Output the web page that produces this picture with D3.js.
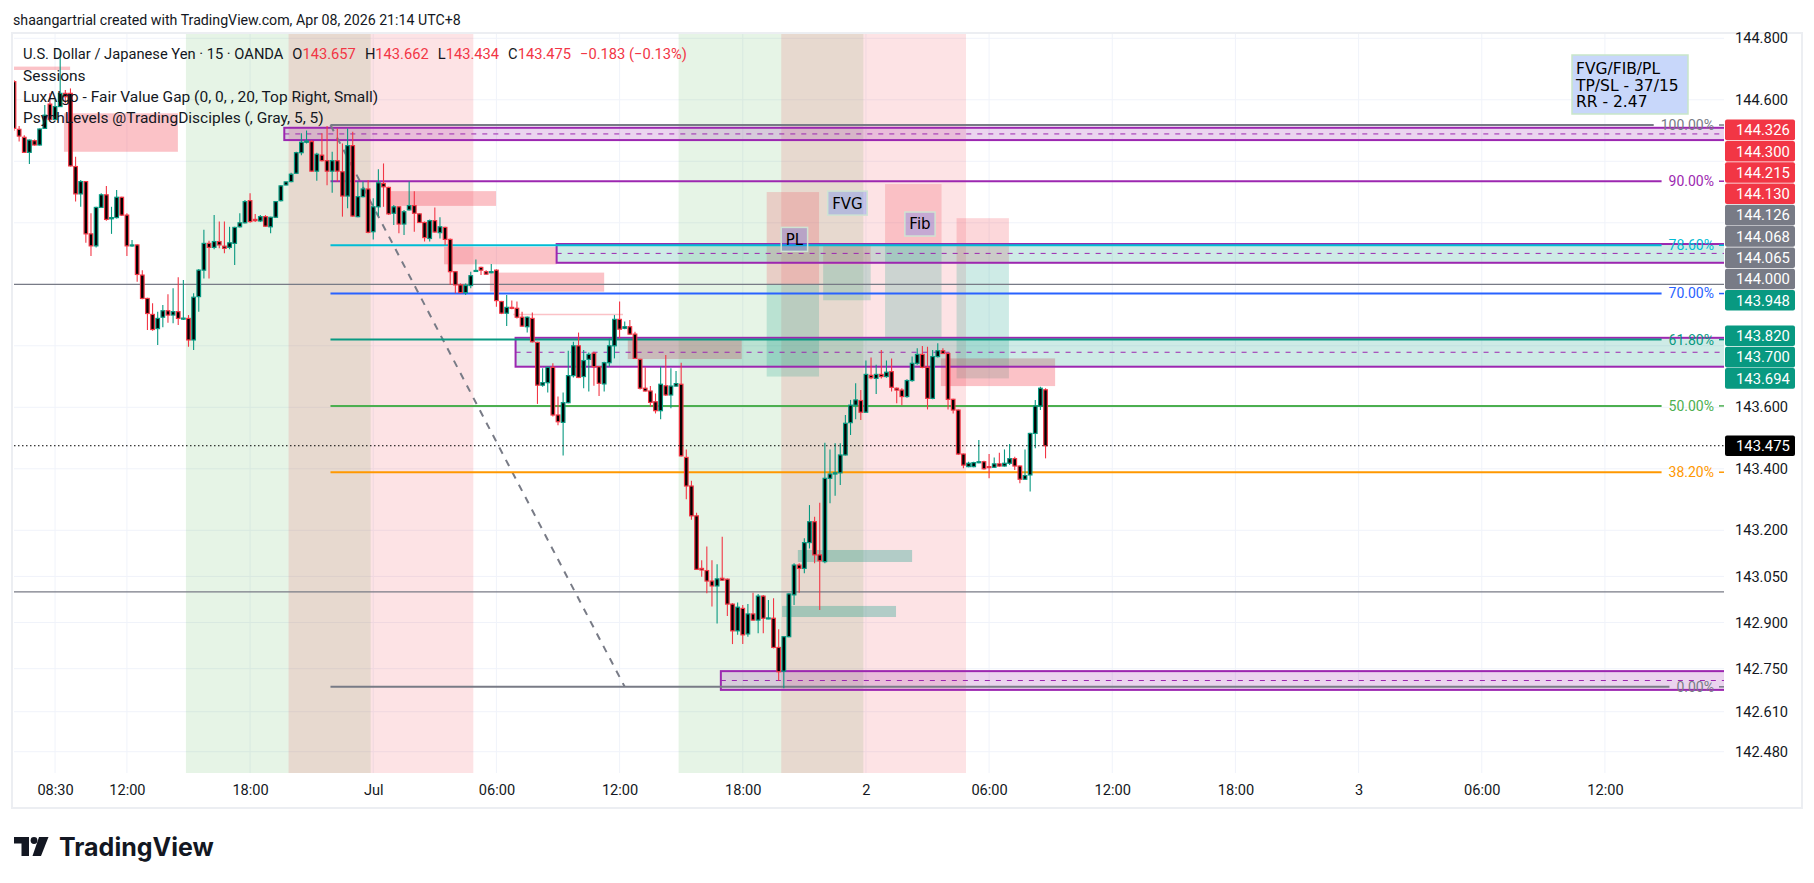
<!DOCTYPE html>
<meta charset="utf-8">
<script src="https://cdn.jsdelivr.net/npm/d3@7"></script>
<style>
body { margin: 0; background: #fff; }
svg { display: block; font-family: Roboto, "Noto Sans", sans-serif; }
</style>
<svg id="chart" width="1814" height="883"></svg>
<script>
// ---- data (USDJPY 15m, OANDA) ----
var firstBar = "2025-06-30 06:30";

var open = [
144.659,144.504,144.478,144.429,144.467,144.453,144.507,144.586,144.536,144.578,
144.621,144.621,144.383,144.294,144.334,144.164,144.125,144.250,144.291,144.213,
144.217,144.283,144.225,144.126,144.128,144.030,143.954,143.902,143.856,143.893,
143.914,143.900,143.911,143.888,143.889,143.819,143.960,144.046,144.133,144.120,
144.139,144.124,144.120,144.133,144.187,144.200,144.272,144.211,144.206,144.220,
144.187,144.218,144.272,144.323,144.334,144.361,144.428,144.462,144.464,144.368,
144.420,144.402,144.368,144.402,144.366,144.287,144.451,144.220,144.285,144.310,
144.171,144.252,144.328,144.315,144.231,144.252,144.196,144.242,144.256,144.229,
144.201,144.149,144.207,144.168,144.185,144.146,144.041,143.998,143.973,143.996,
144.043,144.055,144.041,144.038,144.046,143.944,143.906,143.925,143.922,143.893,
143.862,143.889,143.811,143.672,143.680,143.730,143.575,143.551,143.615,143.703,
143.800,143.700,143.756,143.776,143.732,143.676,143.745,143.800,143.886,143.857,
143.862,143.838,143.756,143.662,143.653,143.618,143.589,143.670,143.640,143.669,
143.675,143.437,143.344,143.247,143.076,143.069,143.035,143.019,143.044,143.041,
142.960,142.873,142.946,142.863,142.928,142.908,142.986,142.914,142.914,142.819,
142.742,142.854,142.990,143.087,143.076,143.160,143.228,143.120,143.098,143.369,
143.383,143.387,143.445,143.550,143.607,143.622,143.584,143.704,143.694,143.707,
143.700,143.716,143.662,143.656,143.635,143.687,143.743,143.772,143.730,143.629,
143.765,143.784,143.775,143.626,143.591,143.448,143.407,143.407,143.420,143.423,
143.407,143.405,143.416,143.409,143.418,143.433,143.409,143.366,143.380,143.515,
143.604,143.657];

var high = [
144.664,144.515,144.485,144.471,144.471,144.507,144.583,144.621,144.601,144.762,
144.632,144.637,144.415,144.339,144.334,144.231,144.252,144.296,144.320,144.252,
144.307,144.285,144.231,144.144,144.130,144.046,143.956,143.938,143.911,143.933,
143.968,143.987,144.023,144.014,143.900,143.971,144.050,144.177,144.142,144.225,
144.204,144.204,144.187,144.187,144.231,144.274,144.296,144.229,144.225,144.225,
144.220,144.271,144.323,144.334,144.363,144.431,144.491,144.500,144.469,144.428,
144.491,144.515,144.431,144.507,144.458,144.507,144.496,144.334,144.334,144.339,
144.280,144.374,144.393,144.317,144.258,144.254,144.242,144.334,144.303,144.231,
144.204,144.211,144.250,144.218,144.187,144.149,144.043,144.003,144.003,144.041,
144.081,144.057,144.046,144.066,144.049,143.946,143.965,143.947,143.944,143.911,
143.895,143.908,143.813,143.727,143.732,143.743,143.635,143.648,143.784,143.813,
143.843,143.786,143.778,143.781,143.734,143.748,143.824,143.900,143.944,143.879,
143.884,143.846,143.758,143.730,143.669,143.645,143.732,143.770,143.727,143.718,
143.745,143.463,143.361,143.257,143.103,143.147,143.103,143.090,143.179,143.043,
142.963,142.965,142.957,142.960,142.997,142.993,142.990,142.973,142.979,142.878,
142.856,142.995,143.093,143.093,143.174,143.282,143.244,143.290,143.485,143.463,
143.483,143.483,143.575,143.624,143.678,143.656,143.752,143.762,143.738,143.786,
143.752,143.759,143.664,143.662,143.691,143.765,143.792,143.799,143.797,143.786,
143.808,143.792,143.778,143.628,143.593,143.450,143.423,143.423,143.494,143.426,
143.448,143.437,143.452,143.463,143.481,143.439,143.411,143.463,143.517,143.624,
143.667,143.662];

var low = [
144.499,144.464,144.428,144.391,144.451,144.451,144.505,144.534,144.534,144.578,
144.588,144.383,144.269,144.252,144.135,144.092,144.120,144.248,144.207,144.164,
144.214,144.222,144.092,144.122,144.008,143.951,143.851,143.849,143.803,143.860,
143.875,143.873,143.868,143.884,143.797,143.786,143.911,144.019,144.019,144.114,
144.117,144.101,144.114,144.063,144.185,144.198,144.200,144.203,144.203,144.187,
144.166,144.216,144.269,144.321,144.332,144.359,144.420,144.458,144.366,144.337,
144.399,144.322,144.298,144.334,144.220,144.247,144.220,144.218,144.283,144.166,
144.146,144.222,144.252,144.225,144.193,144.166,144.160,144.240,144.171,144.199,
144.139,144.139,144.168,144.149,144.128,143.998,143.971,143.971,143.965,143.987,
144.041,144.030,144.032,144.036,143.927,143.903,143.864,143.919,143.889,143.862,
143.843,143.811,143.611,143.667,143.648,143.570,143.542,143.443,143.613,143.697,
143.695,143.662,143.651,143.670,143.637,143.651,143.732,143.759,143.824,143.854,
143.837,143.757,143.658,143.651,143.602,143.580,143.561,143.637,143.597,143.667,
143.440,143.301,143.234,143.071,143.049,142.995,142.952,142.897,143.036,142.921,
142.830,142.860,142.830,142.854,142.906,142.865,142.865,142.911,142.816,142.711,
142.686,142.852,142.957,142.997,143.060,143.141,143.093,142.941,143.093,143.288,
143.312,143.347,143.443,143.510,143.561,143.559,143.582,143.691,143.643,143.694,
143.696,143.651,143.613,143.607,143.631,143.683,143.738,143.727,143.593,143.626,
143.762,143.773,143.593,143.580,143.445,143.402,143.405,143.405,143.418,143.398,
143.369,143.403,143.407,143.407,143.412,143.396,143.353,143.364,143.326,143.467,
143.591,143.434];

var close = [
144.507,144.482,144.429,144.469,144.453,144.505,144.550,144.536,144.578,144.621,
144.610,144.385,144.294,144.334,144.164,144.125,144.250,144.291,144.211,144.217,
144.283,144.225,144.125,144.128,144.032,143.954,143.905,143.853,143.889,143.914,
143.900,143.911,143.889,143.890,143.819,143.958,144.046,144.133,144.120,144.139,
144.128,144.117,144.135,144.185,144.200,144.269,144.204,144.207,144.220,144.189,
144.218,144.269,144.320,144.333,144.358,144.428,144.462,144.466,144.368,144.423,
144.402,144.368,144.402,144.368,144.287,144.451,144.222,144.285,144.310,144.169,
144.252,144.330,144.317,144.229,144.252,144.196,144.236,144.256,144.231,144.201,
144.152,144.207,144.170,144.187,144.146,144.041,143.998,143.973,143.996,144.028,
144.045,144.046,144.033,144.041,143.947,143.906,143.925,143.922,143.893,143.864,
143.893,143.813,143.672,143.680,143.730,143.575,143.553,143.615,143.703,143.800,
143.697,143.752,143.772,143.732,143.678,143.745,143.800,143.886,143.854,143.862,
143.838,143.759,143.662,143.653,143.616,143.589,143.675,143.640,143.669,143.677,
143.442,143.344,143.247,143.073,143.071,143.035,143.019,143.042,143.038,142.960,
142.873,142.950,142.860,142.928,142.908,142.986,142.914,142.915,142.819,142.740,
142.854,142.993,143.087,143.076,143.160,143.228,143.120,143.101,143.369,143.383,
143.387,143.445,143.548,143.607,143.624,143.584,143.707,143.696,143.707,143.700,
143.714,143.665,143.656,143.635,143.687,143.743,143.772,143.730,143.629,143.765,
143.784,143.775,143.626,143.591,143.448,143.412,143.418,143.420,143.423,143.400,
143.406,143.416,143.409,143.418,143.433,143.409,143.366,143.378,143.515,143.604,
143.662,143.475];

// sessions
var sessKind  = ["London", "NewYork", "London", "NewYork"];
var sessStart = ["2025-06-30 15:00", "2025-06-30 20:00", "2025-07-01 15:00", "2025-07-01 20:00"];
var sessEnd   = ["2025-07-01 00:00", "2025-07-01 05:00", "2025-07-02 00:00", "2025-07-02 05:00"];

// time axis
var timeTicks = ["2025-06-30 08:30","2025-06-30 12:00","2025-06-30 18:00","2025-07-01 00:00","2025-07-01 06:00",
  "2025-07-01 12:00","2025-07-01 18:00","2025-07-02 00:00","2025-07-02 06:00","2025-07-02 12:00",
  "2025-07-02 18:00","2025-07-03 00:00","2025-07-03 06:00","2025-07-03 12:00"];
var timeLabels = ["08:30","12:00","18:00","Jul","06:00","12:00","18:00","2","06:00","12:00","18:00","3","06:00","12:00"];

// price axis
var priceTicks = [144.8,144.6,144.4,144.2,144.0,143.8,143.6,143.4,143.2,143.05,142.9,142.75,142.61,142.48];

// LuxAlgo fair value gaps
var fvgKind   = ["bear","bear","bear","bear","bear","bear","bull","bull","bear"];
var fvgStart  = ["2025-06-30 06:25","2025-06-30 08:56","2025-07-01 00:40","2025-07-01 03:27","2025-07-01 05:41",
                 "2025-07-01 12:24","2025-07-01 20:41","2025-07-01 19:55","2025-07-02 03:39"];
var fvgEnd    = ["2025-06-30 09:14","2025-06-30 14:29","2025-07-01 05:59","2025-07-01 08:56","2025-07-01 11:15",
                 "2025-07-01 17:57","2025-07-02 02:15","2025-07-02 01:28","2025-07-02 09:13"];
var fvgTop    = [144.708,144.556,144.303,144.122,144.038,143.821,143.136,142.954,143.759];
var fvgBottom = [144.697,144.431,144.255,144.065,143.976,143.757,143.097,142.918,143.669];
var fvgLineStart = "2025-07-01 06:49", fvgLineEnd = "2025-07-01 12:10", fvgLinePrice = 143.902;

// psych levels
var psychLevels = [144.000, 143.000];

// extended zones
var zoneKind   = ["bear","bull","bull","bear"];
var zoneStart  = ["2025-06-30 19:40","2025-07-01 08:56","2025-07-01 06:56","2025-07-01 16:56"];
var zoneTop    = [144.509,144.131,143.826,142.742];
var zoneBottom = [144.469,144.070,143.732,142.681];

// fib retracement
var fibStart = "2025-06-30 21:55", fibEnd = "2025-07-01 12:15";
var fibHigh = 144.518, fibLow = 142.691;
var fibLevels = [1, 0.9, 0.786, 0.7, 0.618, 0.5, 0.382, 0];

// short position tools
var posName   = ["PL","FVG","Fib",""];
var posStart  = ["2025-07-01 19:10","2025-07-01 21:55","2025-07-02 00:56","2025-07-02 04:25"];
var posEnd    = ["2025-07-01 21:43","2025-07-02 00:14","2025-07-02 03:41","2025-07-02 06:58"];
var posStop   = [144.300,144.130,144.326,144.215];
var posEntry  = [144.000,144.065,144.126,144.068];
var posTarget = [143.700,143.948,143.820,143.694];
var tagTime   = ["2025-07-01 20:31","2025-07-01 23:06","2025-07-02 02:38"];
var tagPrice  = [144.146,144.264,144.196];

var infoLines = ["FVG/FIB/PL", "TP/SL - 37/15", "RR - 2.47"];

// ---- setup ----
var W = 1814, H = 883;
var pane = {l: 14, r: 1724, t: 34, b: 773};
var up = "#089981", down = "#f23645", ink = "#131722";
var parse = d3.timeParse("%Y-%m-%d %H:%M");

var x = d3.scaleTime()
    .domain([parse("2025-06-30 06:30"), parse("2025-07-03 17:48")])
    .range([14, 1724]);
var y = d3.scaleLinear().domain([142.48, 144.8]).range([751.7, 38.3]);
var X = function(s) { return x(parse(s)); };
var t0 = parse(firstBar);
var barW = x(d3.timeMinute.offset(t0, 15)) - x(t0);

var svg = d3.select("#chart");
svg.append("rect").attr("width", W).attr("height", H).attr("fill", "#fff");

svg.append("text").attr("x", 13).attr("y", 25).attr("font-size", 14.2).attr("fill", ink)
    .text("shaangartrial created with TradingView.com, Apr 08, 2026 21:14 UTC+8");

svg.append("rect").attr("x", 12).attr("y", 33).attr("width", 1790).attr("height", 775)
    .attr("fill", "none").attr("stroke", "#eceef2").attr("stroke-width", 2);

svg.append("clipPath").attr("id", "pane").append("rect")
    .attr("x", pane.l).attr("y", pane.t).attr("width", pane.r - pane.l).attr("height", pane.b - pane.t);
var g = svg.append("g").attr("clip-path", "url(#pane)");

// grid
g.selectAll("line.hg").data(priceTicks).join("line")
    .attr("x1", pane.l).attr("x2", pane.r).attr("y1", d => y(d)).attr("y2", d => y(d))
    .attr("stroke", "#f0f3fa").attr("stroke-width", 1);
g.selectAll("line.vg").data(timeTicks).join("line")
    .attr("x1", d => X(d)).attr("x2", d => X(d)).attr("y1", pane.t).attr("y2", pane.b)
    .attr("stroke", "#f0f3fa").attr("stroke-width", 1);

// sessions
var sessFill = {London: "rgba(76,175,80,0.14)", NewYork: "rgba(242,54,69,0.14)"};
g.selectAll("rect.sess").data(sessKind).join("rect")
    .attr("x", (d, i) => X(sessStart[i]) - barW / 2)
    .attr("width", (d, i) => X(sessEnd[i]) - X(sessStart[i]))
    .attr("y", pane.t).attr("height", pane.b - pane.t)
    .attr("fill", d => sessFill[d]);

// position tools
var pos = g.append("g");
posStart.forEach(function(s, i) {
  var x1 = X(s), x2 = X(posEnd[i]);
  pos.append("rect").attr("x", x1).attr("width", x2 - x1)
      .attr("y", y(posStop[i])).attr("height", y(posEntry[i]) - y(posStop[i]))
      .attr("fill", "rgba(242,54,69,0.2)");
  pos.append("rect").attr("x", x1).attr("width", x2 - x1)
      .attr("y", y(posEntry[i])).attr("height", y(posTarget[i]) - y(posEntry[i]))
      .attr("fill", "rgba(8,153,129,0.2)");
});

// fair value gaps
g.selectAll("rect.fvg").data(fvgKind).join("rect")
    .attr("x", (d, i) => X(fvgStart[i]))
    .attr("width", (d, i) => X(fvgEnd[i]) - X(fvgStart[i]))
    .attr("y", (d, i) => y(fvgTop[i]))
    .attr("height", (d, i) => y(fvgBottom[i]) - y(fvgTop[i]))
    .attr("fill", d => d == "bear" ? "rgba(242,54,69,0.3)" : "rgba(8,153,129,0.3)");
g.append("line").attr("x1", X(fvgLineStart)).attr("x2", X(fvgLineEnd))
    .attr("y1", y(fvgLinePrice)).attr("y2", y(fvgLinePrice))
    .attr("stroke", "rgba(242,54,69,0.3)").attr("stroke-width", 1.5);

// zones (extend right)
zoneKind.forEach(function(k, i) {
  var x1 = X(zoneStart[i]), yt = y(zoneTop[i]), yb = y(zoneBottom[i]);
  g.append("rect").attr("x", x1).attr("width", pane.r + 6 - x1).attr("y", yt).attr("height", yb - yt)
      .attr("fill", k == "bear" ? "rgba(156,39,176,0.2)" : "rgba(8,153,129,0.2)")
      .attr("stroke", "#9c27b0").attr("stroke-width", 2);
  g.append("line").attr("x1", x1).attr("x2", pane.r).attr("y1", (yt + yb) / 2).attr("y2", (yt + yb) / 2)
      .attr("stroke", "#9c27b0").attr("stroke-width", 1).attr("stroke-dasharray", "5,6");
});

// psych levels
g.selectAll("line.psy").data(psychLevels).join("line")
    .attr("x1", pane.l).attr("x2", pane.r).attr("y1", d => y(d)).attr("y2", d => y(d))
    .attr("stroke", "#787b86").attr("stroke-width", 1.2);

// fib
var fibColor = {1: "#787b86", 0.9: "#9c27b0", 0.786: "#00bcd4", 0.7: "#2962ff", 0.618: "#089981",
                0.5: "#4caf50", 0.382: "#ff9800", 0: "#787b86"};
var fibG = svg.append("g");
fibLevels.forEach(function(lv) {
  var p = fibLow + lv * (fibHigh - fibLow), yy = y(p), col = fibColor[lv];
  var t = fibG.append("text").attr("x", 1714).attr("y", yy).attr("dy", "0.35em")
      .attr("text-anchor", "end").attr("font-size", 14).attr("fill", col)
      .text(d3.format(".2f")(lv * 100) + "%");
  var tx = 1714 - t.node().getComputedTextLength();
  fibG.insert("line", "text").attr("x1", X(fibStart)).attr("x2", tx - 7).attr("y1", yy).attr("y2", yy)
      .attr("stroke", col).attr("stroke-width", 2);
  fibG.append("line").attr("x1", 1719).attr("x2", 1724).attr("y1", yy).attr("y2", yy)
      .attr("stroke", col).attr("stroke-width", 1.5);
});
g.append("line").attr("x1", X(fibStart)).attr("y1", y(fibHigh)).attr("x2", X(fibEnd)).attr("y2", y(fibLow))
    .attr("stroke", "#787b86").attr("stroke-width", 2).attr("stroke-dasharray", "7,7");

// candles
var bars = close.map(function(c, i) {
  return {t: d3.timeMinute.offset(t0, 15 * i), o: open[i], h: high[i], l: low[i], c: c};
});
var cg = svg.append("g").attr("clip-path", "url(#pane)");
var candle = cg.selectAll("g").data(bars).join("g");
candle.append("line")
    .attr("x1", d => x(d.t)).attr("x2", d => x(d.t))
    .attr("y1", d => y(d.h)).attr("y2", d => y(d.l))
    .attr("stroke", d => d.c >= d.o ? up : down).attr("stroke-width", 1.1);
candle.append("rect")
    .attr("x", d => x(d.t) - 1.8).attr("width", 3.6)
    .attr("y", d => y(Math.max(d.o, d.c)))
    .attr("height", d => Math.max(1, Math.abs(y(d.o) - y(d.c))))
    .attr("fill", "#000").attr("stroke", d => d.c >= d.o ? up : down).attr("stroke-width", 1.2);

// last price line
var last = close[close.length - 1];
cg.append("line").attr("x1", pane.l).attr("x2", pane.r).attr("y1", y(last)).attr("y2", y(last))
    .attr("stroke", "#000").attr("stroke-width", 1).attr("stroke-dasharray", "1.5,2.5");

// tool tags
tagTime.forEach(function(t, i) {
  var cx = X(t), cy = y(tagPrice[i]);
  var tg = svg.append("g");
  var tt = tg.append("text").attr("x", cx).attr("y", cy).attr("dy", "0.36em").attr("text-anchor", "middle")
      .attr("font-family", "'DejaVu Sans', sans-serif").attr("font-size", 15).attr("fill", "#000").text(posName[i]);
  var w = tt.node().getComputedTextLength() + 9;
  tg.insert("rect", "text").attr("x", cx - w / 2).attr("y", cy - 12).attr("width", w).attr("height", 24)
      .attr("fill", "rgba(41,98,255,0.25)").attr("stroke", "#cfe3d3").attr("stroke-width", 1.5);
});

// info table
svg.append("rect").attr("x", 1572).attr("y", 55).attr("width", 116).attr("height", 59)
    .attr("fill", "#c8d7fa").attr("stroke", "#c8e6c9").attr("stroke-width", 1.5);
svg.selectAll("text.info").data(infoLines).join("text")
    .attr("x", 1576).attr("y", (d, i) => 68.5 + i * 16.7).attr("dy", "0.36em")
    .attr("font-family", "'DejaVu Sans', sans-serif").attr("font-size", 15.5).attr("fill", "#000")
    .text(d => d);

// legend
var leg = svg.append("g").attr("font-size", 15.5).attr("fill", ink);
var l1 = leg.append("text").attr("x", 23).attr("y", 58.5).attr("font-size", 14.7);
l1.append("tspan").text("U.S. Dollar / Japanese Yen · 15 · OANDA");
[["O", open[open.length - 1]], ["H", high[high.length - 1]], ["L", low[low.length - 1]], ["C", last]]
  .forEach(function(p) {
    l1.append("tspan").attr("dx", 9).text(p[0]);
    l1.append("tspan").attr("fill", down).text(p[1].toFixed(3));
  });
l1.append("tspan").attr("dx", 9).attr("fill", down).text("−0.183 (−0.13%)");
["Sessions", "LuxAlgo - Fair Value Gap (0, 0, , 20, Top Right, Small)", "PsychLevels @TradingDisciples (, Gray, 5, 5)"]
  .forEach(function(s, i) {
    leg.append("text").attr("x", 23).attr("y", 80.5 + i * 21).text(s);
  });

// right-axis price labels (stacked bottom-up)
var kindFill = {stop: down, entry: "#787b86", target: up, last: "#000"};
var marks = [{p: last, k: "last"}];
posStop.forEach(p => marks.push({p: p, k: "stop"}));
posEntry.forEach(p => marks.push({p: p, k: "entry"}));
posTarget.forEach(p => marks.push({p: p, k: "target"}));
marks.sort((a, b) => a.p - b.p);
var prev = Infinity;
marks.forEach(function(m) { m.y = Math.min(y(m.p), prev - 21.3); prev = m.y; });

var shown = priceTicks.filter(t => marks.every(m => Math.abs(m.y - y(t)) > 15));
var yAxis = svg.append("g").attr("transform", "translate(" + pane.r + ",0)")
    .call(d3.axisRight(y).tickValues(shown).tickSize(0).tickPadding(11).tickFormat(d3.format(".3f")));
yAxis.select(".domain").remove();
yAxis.selectAll("text").attr("font-size", 14.6).attr("fill", ink).attr("font-family", "Roboto, sans-serif");

var ml = svg.append("g");
marks.forEach(function(m) {
  ml.append("rect").attr("x", 1725).attr("y", m.y - 10.3).attr("width", 70).attr("height", 20.6).attr("rx", 2)
      .attr("fill", kindFill[m.k]);
  ml.append("text").attr("x", 1736).attr("y", m.y).attr("dy", "0.36em").attr("font-size", 14.8)
      .attr("fill", "#fff").text(m.p.toFixed(3));
});

// time axis
var xAxis = svg.append("g").attr("transform", "translate(0," + pane.b + ")")
    .call(d3.axisBottom(x).tickValues(timeTicks.map(parse)).tickSize(0).tickPadding(12)
      .tickFormat((d, i) => timeLabels[i]));
xAxis.select(".domain").remove();
xAxis.selectAll("text").attr("font-size", 14.6).attr("fill", ink).attr("font-family", "Roboto, sans-serif");

// TradingView logo
var logo = svg.append("g").attr("fill", ink);
logo.append("rect").attr("x", 14).attr("y", 837).attr("width", 15).attr("height", 6.5);
logo.append("rect").attr("x", 21.5).attr("y", 837).attr("width", 7.5).attr("height", 19);
logo.append("circle").attr("cx", 34).attr("cy", 840.5).attr("r", 3.4);
logo.append("polygon").attr("points", "39,837 48.5,837 41,856 32.5,856");
logo.append("text").attr("x", 59).attr("y", 855.5).attr("font-size", 25).attr("font-weight", 700)
    .attr("font-family", "Inter, Roboto, sans-serif").text("TradingView");
</script>
